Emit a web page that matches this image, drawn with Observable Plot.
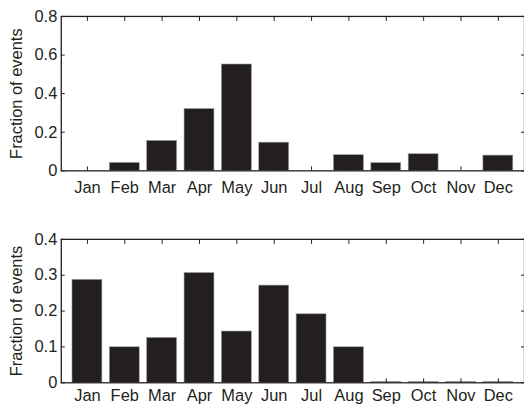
<!DOCTYPE html>
<html><head><meta charset="utf-8">
<script src="https://cdn.jsdelivr.net/npm/d3@7"></script>
<script src="https://cdn.jsdelivr.net/npm/@observablehq/plot@0.6"></script>
<style>
html,body{margin:0;padding:0;background:#fff;overflow:hidden;}
#c{width:524px;height:407px;overflow:hidden;}
#c svg{display:block;}
</style>
</head><body><div id="c"></div>
<script>
const months = ["Jan","Feb","Mar","Apr","May","Jun","Jul","Aug","Sep","Oct","Nov","Dec"];
const valuesTop = [0, 0.041, 0.155, 0.32, 0.551, 0.146, 0, 0.081, 0.04, 0.086, 0, 0.079];
const valuesBottom = [0.287, 0.099, 0.125, 0.306, 0.143, 0.271, 0.191, 0.099, 0.002, 0.002, 0.002, 0.002];
const yTicksTop = [0, 0.2, 0.4, 0.6, 0.8];
const yTicksBottom = [0, 0.1, 0.2, 0.3, 0.4];

const ink = "#231f20";
const font = "'Liberation Sans', Arial, Helvetica, sans-serif";

function panel(values, yTicks, height, marginTop, marginBottom, xPad) {
  const data = months.map((m, i) => ({month: m, i: i + 1, v: values[i]}));
  const ymax = yTicks[yTicks.length - 1];
  const fmt = d => d === 0 ? "0" : String(d);
  return Plot.plot({
    width: 526,
    height,
    marginLeft: 61,
    marginRight: 0,
    marginTop,
    marginBottom,
    style: {fontFamily: font, fontSize: "17px", color: ink, background: "white", overflow: "visible"},
    x: {type: "linear", domain: [0.3, 12.7]},
    y: {domain: [0, ymax]},
    marks: [
      Plot.rectY(data, {x1: d => d.i - 0.4, x2: d => d.i + 0.4, y: "v", fill: ink, stroke: "#9a9a9a", strokeWidth: 0.6}),
      Plot.axisX(d3.range(1, 13), {anchor: "bottom", tickSize: -4, tickPadding: xPad, tickFormat: d => months[d - 1], stroke: ink, fill: ink, label: null, fontSize: 16.5}),
      Plot.axisX(d3.range(1, 13), {anchor: "top", tickSize: -4, tickFormat: () => "", stroke: ink, label: null}),
      Plot.axisY(yTicks, {anchor: "left", tickSize: -4, tickPadding: 8, tickFormat: fmt, stroke: ink, fill: ink, label: "Fraction of events", labelAnchor: "center", labelArrow: "none", labelOffset: 51, fontSize: 16.5}),
      Plot.axisY(yTicks, {anchor: "right", tickSize: -4, tickFormat: () => "", stroke: ink, label: null}),
      Plot.frame({stroke: ink, strokeWidth: 1.3})
    ]
  });
}

const c = document.getElementById("c");
c.appendChild(panel(valuesTop, yTicksTop, 200, 16, 29, 15));
c.appendChild(panel(valuesBottom, yTicksBottom, 207, 40, 23, 11));
</script>
</body></html>
